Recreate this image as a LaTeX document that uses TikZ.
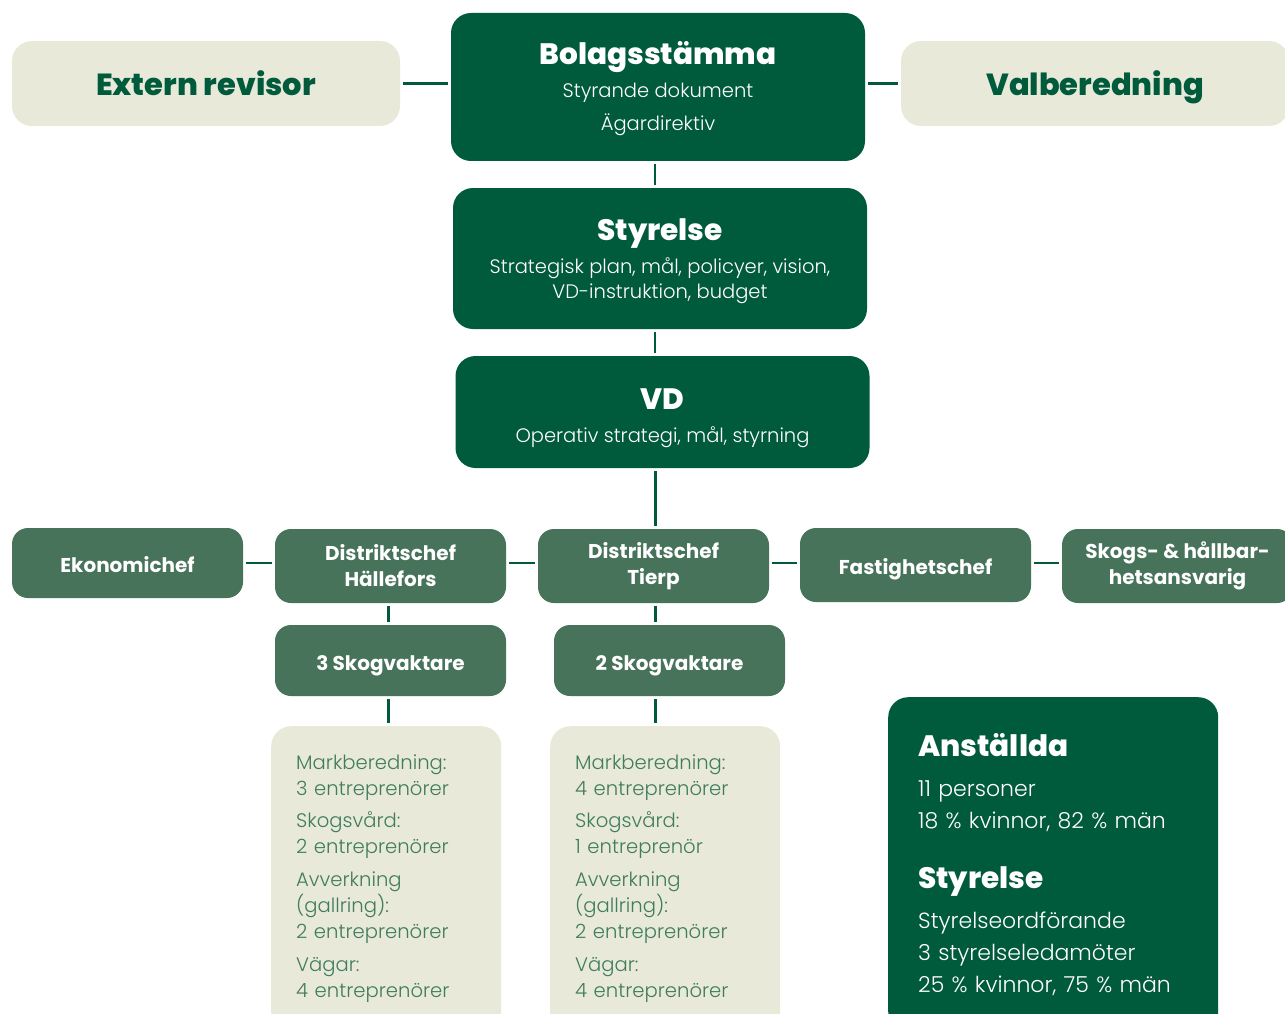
\documentclass[tikz,border=0pt]{standalone}
\usepackage{fontspec}
\usetikzlibrary{calc}
\setmainfont{Poppins}
\newfontfamily\lightfont{Poppins Light}
\newfontfamily\heavyfont{Poppins ExtraBold}
\definecolor{darkgreen}{HTML}{005A3C}
\definecolor{midgreen}{HTML}{46735A}
\definecolor{beige}{HTML}{E9E9DA}
\definecolor{textgreen}{HTML}{3F7D5C}
\newcommand{\headtxt}[1]{{\heavyfont\fontsize{29.5}{36}\selectfont #1}}
\newcommand{\headstrut}[1]{\rule{0pt}{#1}}
\begin{document}
\begin{tikzpicture}[x=1pt,y=-1pt,
		box/.style={rounded corners=20pt, inner sep=0pt, align=center},
		topbox/.style={box, fill=darkgreen, text=white, minimum width=414pt,
			font=\lightfont\fontsize{19.5}{25}\selectfont},
		sidebox/.style={box, fill=beige, text=darkgreen, minimum width=388pt,
			minimum height=85pt, text height=25pt, text depth=0pt,
			font=\heavyfont\fontsize{30.5}{36}\selectfont},
		rolebox/.style={box, rounded corners=16pt, fill=midgreen, text=white,
			minimum width=231pt, minimum height=74pt, font=\fontsize{20}{26}\selectfont\bfseries},
		oneline/.style={text height=19pt, text depth=0pt},
		infobox/.style={box, fill=beige, text=textgreen, anchor=north west, align=left,
			text width=180pt, inner xsep=25pt, inner ysep=29pt,
			font=\lightfont\fontsize{19.6}{26}\selectfont},
		conn/.style={draw=darkgreen, line width=2.5pt, shorten <=3pt, shorten >=3pt}
	]
	\useasboundingbox (0,0) rectangle (1285,1014);
	\clip (0,0) rectangle (1285,1014);

	% top level
	\node[sidebox] (revisor) at (206,83.5) {Extern revisor};
	\node[topbox, minimum height=148pt] (bolag) at (658,87)
		{\headstrut{26pt}\headtxt{Bolagsstämma}\\[8pt] Styrande dokument\\[8pt] Ägardirektiv};
	\node[sidebox] (valb) at (1095,83.5) {Valberedning};
	\node[topbox, minimum height=141pt] (styr) at (660,258.5)
		{\headstrut{28pt}\headtxt{Styrelse}\\[8pt] Strategisk plan, mål, policyer, vision,\\ VD-instruktion, budget};
	\node[topbox, minimum height=112pt] (vd) at (662.5,412)
		{\headstrut{33pt}\headtxt{VD}\\[8pt] Operativ strategi, mål, styrning};

	% chefer
	\node[rolebox, oneline, minimum height=70pt] (ekonomi) at (127.5,563) {Ekonomichef};
	\node[rolebox] (hallefors) at (390.5,566) {Distriktschef\\ Hällefors};
	\node[rolebox] (tierp) at (653.5,566) {Distriktschef\\ Tierp};
	\node[rolebox, oneline] (fastighet) at (915.5,565) {Fastighetschef};
	\node[rolebox] (skogs) at (1177.5,566) {Skogs- \& hållbar-\\ hetsansvarig};
	\node[rolebox, oneline, minimum height=71pt] (vakt1) at (390.5,660.5) {3 Skogvaktare};
	\node[rolebox, oneline, minimum height=71pt] (vakt2) at (669.5,660.5) {2 Skogvaktare};

	% entreprenorer
	\node[infobox] (entr1) at (271,726)
		{Markberedning:\\ 3 entreprenörer\\[6pt] Skogsvård:\\ 2 entreprenörer\\[7pt]
		Avverkning\\ (gallring):\\ 2 entreprenörer\\[7pt] Vägar:\\ 4 entreprenörer\\[20pt]};
	\node[infobox] (entr2) at (550,726)
		{Markberedning:\\ 4 entreprenörer\\[6pt] Skogsvård:\\ 1 entreprenör\\[7pt]
		Avverkning\\ (gallring):\\ 2 entreprenörer\\[7pt] Vägar:\\ 4 entreprenörer\\[20pt]};

	% fakta
	\node[box, fill=darkgreen, text=white, anchor=north west, align=left,
		text width=270pt, inner xsep=30pt, inner ysep=36pt,
		font=\lightfont\fontsize{22}{32}\selectfont] (fakta) at (888,697)
		{\headtxt{Anställda}\\[8pt] 11 personer\\ 18 \% kvinnor, 82 \% män\\[28pt]
		\headtxt{Styrelse}\\[8pt] Styrelseordförande\\ 3 styrelseledamöter\\ 25 \% kvinnor, 75 \% män\\[40pt]};

	% linjer
	\draw[conn] (revisor.east) -- (revisor.east -| bolag.west);
	\draw[conn] (bolag.east |- valb.west) -- (valb.west);
	\draw[conn] (bolag.south) ++(-3,0) -- ($(bolag.south |- styr.north)+(-3,0)$);
	\draw[conn] (styr.south) ++(-5,0) -- ($(styr.south |- vd.north)+(-5,0)$);
	\draw[conn] (vd.south) ++(-7,0) -- ($(vd.south |- tierp.north)+(-7,0)$);
	\draw[conn] (ekonomi.east) -- (ekonomi.east -| hallefors.west);
	\draw[conn] (hallefors.east |- ekonomi.east) -- (ekonomi.east -| tierp.west);
	\draw[conn] (tierp.east |- ekonomi.east) -- (ekonomi.east -| fastighet.west);
	\draw[conn] (fastighet.east |- ekonomi.east) -- (ekonomi.east -| skogs.west);
	\draw[conn] (hallefors.south) ++(-2,0) -- ($(vakt1.north)+(-2,0)$);
	\draw[conn] (tierp.south) ++(2,0) -- ($(tierp.south |- vakt2.north)+(2,0)$);
	\draw[conn] (vakt1.south) ++(-2,0) -- ($(vakt1.south |- entr1.north)+(-2,0)$);
	\draw[conn] (vakt2.south -| tierp.south) ++(2,0) -- ($(tierp.south |- entr2.north)+(2,0)$);
\end{tikzpicture}
\end{document}
